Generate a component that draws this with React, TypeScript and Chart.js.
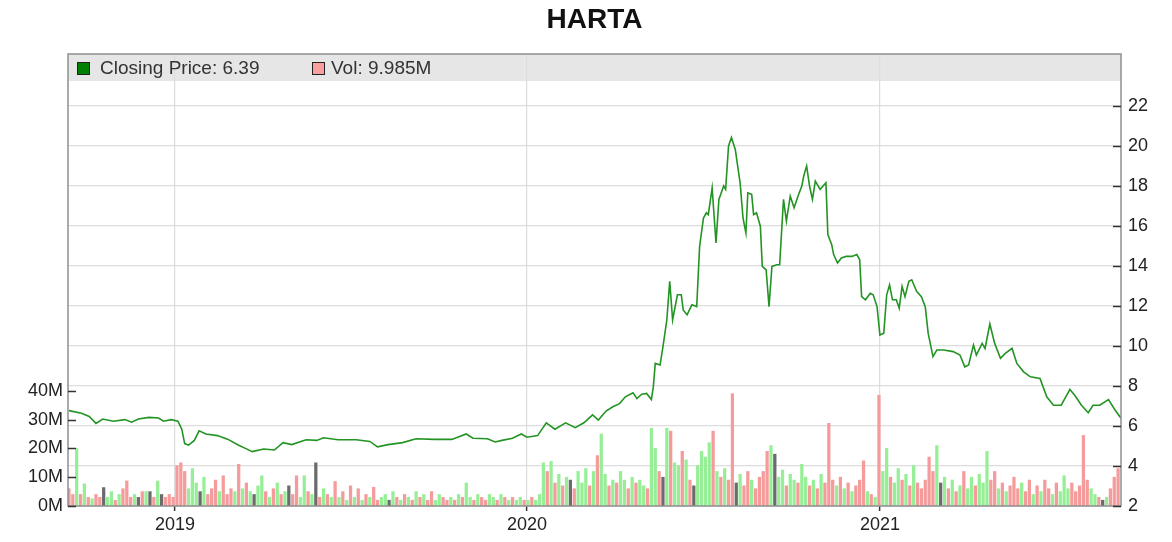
import { useEffect, useRef } from "react";
import { Chart, registerables } from "chart.js";

Chart.register(...registerables);

const chartTitle = "HARTA";
const lastCloseLabel = "Closing Price: 6.39";
const lastVolumeLabel = "Vol: 9.985M";

// x axis: days counted from 2019-01-01
const axisStartDay = -111;
const axisEndDay = 981;
const yearTickDays = [0, 365, 731];
const yearTickLabels = ["2019", "2020", "2021"];

const priceTicks = [2, 4, 6, 8, 10, 12, 14, 16, 18, 20, 22];
const volumeTicks = [0, 10, 20, 30, 40];

// closing price samples (day offset from 2019-01-01, price)
const priceDays = [
  -110, -97, -89, -82, -75, -64, -52, -45, -38, -27,
  -17, -12, -4, 3, 7, 10, 14, 20, 25, 32,
  44, 55, 66, 73, 80, 92, 103, 112, 121, 136,
  147, 154, 169, 188, 202, 210, 221, 236, 250, 269,
  287, 302, 309, 324, 332, 339, 350, 359, 365, 376,
  385, 394, 405, 415, 424, 433, 439, 447, 454, 461,
  467, 475, 479, 484, 489, 494, 496, 498, 503, 506,
  510, 513, 516, 521, 525, 527, 531, 536, 541, 544,
  548, 551, 553, 557, 561, 564, 569, 571, 574, 577,
  581, 583, 586, 589, 592, 594, 598, 600, 603, 607,
  609, 613, 616, 619, 624, 627, 631, 634, 638, 642,
  646, 650, 652, 655, 658, 661, 664, 669, 675, 677,
  681, 683, 687, 691, 696, 702, 707, 710, 712, 716,
  721, 724, 728, 731, 735, 738, 741, 744, 748, 751,
  754, 757, 761, 764, 769, 774, 778, 781, 786, 790,
  797, 807, 814, 819, 823, 828, 831, 837, 840, 845,
  850, 856, 861, 868, 873, 880, 887, 897, 904, 911,
  919, 928, 933, 940, 947, 952, 959, 968, 975, 981,
];
const priceClose = [
  6.77, 6.64, 6.48, 6.13, 6.35, 6.24, 6.32, 6.19, 6.35, 6.43,
  6.4, 6.24, 6.32, 6.24, 5.84, 5.12, 5.04, 5.28, 5.76, 5.6,
  5.52, 5.33, 5.04, 4.88, 4.72, 4.85, 4.8, 5.17, 5.07, 5.31,
  5.28, 5.41, 5.31, 5.31, 5.23, 4.96, 5.07, 5.17, 5.36, 5.33,
  5.33, 5.6, 5.39, 5.36, 5.2, 5.28, 5.39, 5.6, 5.44, 5.52,
  6.16, 5.84, 6.16, 5.92, 6.16, 6.56, 6.3, 6.75, 6.96, 7.12,
  7.46, 7.66, 7.37, 7.59, 7.63, 7.32, 7.96, 9.13, 9.05, 9.97,
  11.3, 13.23, 11.3, 12.56, 12.56, 11.8, 11.56, 12.06, 11.97, 14.98,
  16.4, 16.66, 16.57, 17.9, 15.15, 17.33, 18.0, 17.83, 20.0, 20.42,
  19.83, 19.16, 18.16, 16.4, 15.65, 17.66, 17.58, 16.57, 16.66, 15.99,
  13.98, 13.81, 11.97, 13.98, 14.06, 14.06, 17.33, 16.24, 17.49, 16.91,
  17.49, 18.0, 18.5, 19.0, 18.0, 17.33, 18.24, 17.83, 18.16, 15.57,
  15.07, 14.57, 14.15, 14.4, 14.48, 14.48, 14.57, 14.31, 12.47, 12.31,
  12.64, 12.56, 11.97, 10.55, 10.64, 12.56, 13.06, 12.31, 12.31, 11.89,
  12.98, 12.47, 13.23, 13.31, 12.73, 12.47, 11.97, 10.64, 9.47, 9.8,
  9.8, 9.72, 9.55, 8.96, 9.05, 10.05, 9.55, 10.13, 9.88, 11.1,
  10.13, 9.38, 9.63, 9.88, 9.13, 8.71, 8.46, 8.38, 7.46, 7.04,
  7.04, 7.83, 7.54, 7.04, 6.66, 7.04, 7.04, 7.32, 6.79, 6.39,
];

// volume (millions), one bar every 4 days starting at day -110
const volumeStartDay = -110;
const volumeStepDays = 4;
const volume2018 = [6, 4, 20, 4, 7.7, 3, 2.5, 4, 3, 6.4, 3, 5, 2, 4, 6, 8.7, 3, 4, 3, 5, 5, 5, 3, 8.7, 4, 3, 4, 3];
const volume2019 = [
  14, 15, 12, 6, 13, 8, 5, 10, 4, 6,
  9, 5, 10.5, 4, 6, 5, 14.5, 6, 8, 5,
  4, 7, 10.5, 5, 3, 6, 8, 4, 5, 7,
  4, 10.5, 3, 10.5, 5, 4, 15, 3, 6, 4,
  3, 8.5, 3, 5, 2, 7, 3, 6, 2, 4,
  3, 6.5, 2, 3, 4, 2, 5, 3, 2, 4,
  3, 2, 5, 3, 4, 2, 5, 2, 4, 3,
  2, 3, 2, 4, 3, 8, 3, 2, 4, 3,
  2, 4, 3, 2, 4, 3, 2, 3, 2, 3,
  2,
];
const volume2020 = [
  2, 3, 2, 4, 15, 12, 15.5, 8, 11, 7,
  10, 9, 6, 12, 8, 13, 7, 12, 17.5, 25,
  11, 7, 9, 8, 12, 9, 6, 10, 8, 9,
  7, 6, 27, 20, 12, 10, 27, 26, 15, 14,
  19, 16, 9, 7, 14, 19, 17, 22, 26, 12,
  10, 13, 9, 39, 8, 11, 7, 12, 9, 6,
  10, 12, 19, 21, 18, 10, 12.5, 7, 11, 9,
  8, 14.5, 10, 7, 9, 6, 11, 8, 28.7, 9,
  7, 10, 6, 8, 5, 7, 9, 15.7, 5, 4,
  3, 38.5,
];
const volume2021 = [
  12, 20, 10, 8, 13, 9, 11, 7, 14, 8,
  6, 9, 17, 12, 21, 8, 10, 6, 9, 5,
  7, 12, 6, 10, 7, 11, 8, 19, 9, 12,
  6, 8, 5, 7, 10, 6, 8, 5, 9, 4,
  7, 5, 9, 6, 4, 8, 5, 10.5, 6, 8,
  5, 7, 24.5, 9, 6, 4, 3, 2, 3, 6,
  10, 13,
];
// g = up day, r = down day, k = unchanged
const volumeDir2018 = "rrgrgrgrrkggrgrrrgkrgkrgkrrr";
const volumeDir2019 =
  "rrrgggkgrr" + "rgrrrgrgrg" + "kggrgrgrgk" + "rrggrgkrgr" + "grgrgrgrgr" +
  "grrggkgrgr" + "grgrgrrggr" + "rgrgrggrgr" + "rggrgrgrgg" + "r";
const volumeDir2020 =
  "grgggrgrgr" + "gkrgggrgrg" + "grgrggrgrg" + "grggrkgrgg" + "rgrkggggrg" +
  "rgrrkgrrgr" + "rrrgkggrgg" + "rggrgrgrrr" + "grgrgrrrgr" + "gr";
const volumeDir2021 =
  "ggrggrgrgr" + "rrrrgkgrgr" + "grggrgggrr" + "grgrrrgrrg" + "rgrrgrgggr" +
  "rrrrggrkgr" + "rr";

const FONT = '"Liberation Sans", Arial, Helvetica, sans-serif';
const dirColors: Record<string, string> = { g: "#96ef96", r: "#f59b9b", k: "#6b6b6b" };

export default function App() {
  const canvasRef = useRef<HTMLCanvasElement | null>(null);

  useEffect(() => {
    const canvas = canvasRef.current;
    if (!canvas) return;

    const volumes = [...volume2018, ...volume2019, ...volume2020, ...volume2021];
    const dirs = volumeDir2018 + volumeDir2019 + volumeDir2020 + volumeDir2021;
    const volData = volumes.map((v, i) => ({ x: volumeStartDay + i * volumeStepDays, y: v }));
    const volColors = volumes.map((_, i) => dirColors[dirs[i] || "g"]);
    const priceData = priceDays.map((d, i) => ({ x: d, y: priceClose[i] }));

    const overlay = {
      id: "overlay",
      beforeDraw(chart: any) {
        const { ctx, chartArea: a } = chart;
        ctx.save();
        ctx.fillStyle = "#ffffff";
        ctx.fillRect(0, 0, chart.width, chart.height);
        ctx.fillStyle = "#e6e6e6";
        ctx.fillRect(a.left, a.top, a.right - a.left, 27);
        ctx.restore();
      },
      afterDraw(chart: any) {
        const { ctx, chartArea: a } = chart;
        ctx.save();
        // frame
        ctx.strokeStyle = "#8f8f8f";
        ctx.lineWidth = 1.5;
        ctx.strokeRect(a.left, a.top, a.right - a.left, a.bottom - a.top);
        // inward tick marks
        ctx.strokeStyle = "#333333";
        ctx.lineWidth = 1.5;
        const yp = chart.scales.yPrice;
        priceTicks.forEach((v) => {
          const y = Math.round(yp.getPixelForValue(v)) + 0.5;
          ctx.beginPath();
          ctx.moveTo(a.right - 8, y);
          ctx.lineTo(a.right, y);
          ctx.stroke();
        });
        const yv = chart.scales.yVol;
        volumeTicks.forEach((v) => {
          const y = Math.round(yv.getPixelForValue(v)) + 0.5;
          ctx.beginPath();
          ctx.moveTo(a.left, y);
          ctx.lineTo(a.left + 8, y);
          ctx.stroke();
        });
        // title
        ctx.fillStyle = "#111111";
        ctx.font = `bold 28px ${FONT}`;
        ctx.textAlign = "center";
        ctx.textBaseline = "alphabetic";
        ctx.fillText(chartTitle, (a.left + a.right) / 2, 28);
        // legend
        ctx.textAlign = "left";
        ctx.textBaseline = "middle";
        ctx.font = `19px ${FONT}`;
        ctx.lineWidth = 1;
        ctx.strokeStyle = "#222222";
        ctx.fillStyle = "#008000";
        ctx.fillRect(77.5, 62.5, 12, 12);
        ctx.strokeRect(77.5, 62.5, 12, 12);
        ctx.fillStyle = "#333333";
        ctx.fillText(lastCloseLabel, 100, 69);
        ctx.fillStyle = "#f8a0a0";
        ctx.fillRect(312.5, 62.5, 12, 12);
        ctx.strokeRect(312.5, 62.5, 12, 12);
        ctx.fillStyle = "#333333";
        ctx.fillText(lastVolumeLabel, 331, 69);
        ctx.restore();
      },
    };

    const chart = new Chart(canvas, {
      type: "line",
      data: {
        datasets: [
          {
            type: "line",
            label: "Closing Price",
            data: priceData,
            yAxisID: "yPrice",
            borderColor: "#239423",
            borderWidth: 1.6,
            pointRadius: 0,
            tension: 0,
            fill: false,
            order: 0,
          } as any,
          {
            type: "bar",
            label: "Vol",
            data: volData,
            yAxisID: "yVol",
            backgroundColor: volColors,
            borderWidth: 0,
            barThickness: 2.6,
            order: 1,
          } as any,
        ],
      },
      options: {
        animation: false,
        responsive: false,
        devicePixelRatio: 1,
        layout: { padding: { top: 54, left: 0, right: 0, bottom: 0 } },
        plugins: {
          legend: { display: false },
          title: { display: false },
          tooltip: { enabled: false },
        },
        scales: {
          x: {
            type: "linear",
            min: axisStartDay,
            max: axisEndDay,
            offset: false,
            afterBuildTicks: (s: any) => {
              s.ticks = yearTickDays.map((v) => ({ value: v }));
            },
            afterFit: (s: any) => {
              s.height = 36;
            },
            ticks: {
              autoSkip: false,
              maxRotation: 0,
              padding: 3,
              color: "#222222",
              font: { family: FONT, size: 18 },
              callback: (v: any) => {
                const idx = yearTickDays.indexOf(Number(v));
                return idx >= 0 ? yearTickLabels[idx] : "";
              },
            },
            grid: {
              offset: false,
              color: "#dddddd",
              lineWidth: 1.2,
              drawTicks: true,
              tickLength: 5,
              tickColor: "#333333",
              tickWidth: 1.5,
            } as any,
            border: { display: false },
          },
          yPrice: {
            type: "linear",
            position: "right",
            min: 2,
            max: 24.6,
            afterBuildTicks: (s: any) => {
              s.ticks = priceTicks.map((v) => ({ value: v }));
            },
            afterFit: (s: any) => {
              s.width = 51;
            },
            ticks: {
              padding: 7,
              color: "#222222",
              font: { family: FONT, size: 18 },
              callback: (v: any) => String(v),
            },
            grid: { color: "#dddddd", lineWidth: 1.2, drawTicks: false },
            border: { display: false },
          },
          yVol: {
            type: "linear",
            position: "left",
            min: 0,
            max: 157,
            afterBuildTicks: (s: any) => {
              s.ticks = volumeTicks.map((v) => ({ value: v }));
            },
            afterFit: (s: any) => {
              s.width = 68;
            },
            ticks: {
              padding: 5,
              color: "#222222",
              font: { family: FONT, size: 18 },
              callback: (v: any) => `${v}M`,
            },
            grid: { display: false, drawTicks: false },
            border: { display: false },
          },
        },
      } as any,
      plugins: [overlay],
    });

    return () => chart.destroy();
  }, []);

  return (
    <div style={{ position: "fixed", left: 0, top: 0, width: 1172, height: 542, background: "#fff" }}>
      <canvas ref={canvasRef} width={1172} height={542} style={{ width: 1172, height: 542, display: "block" }} />
    </div>
  );
}
